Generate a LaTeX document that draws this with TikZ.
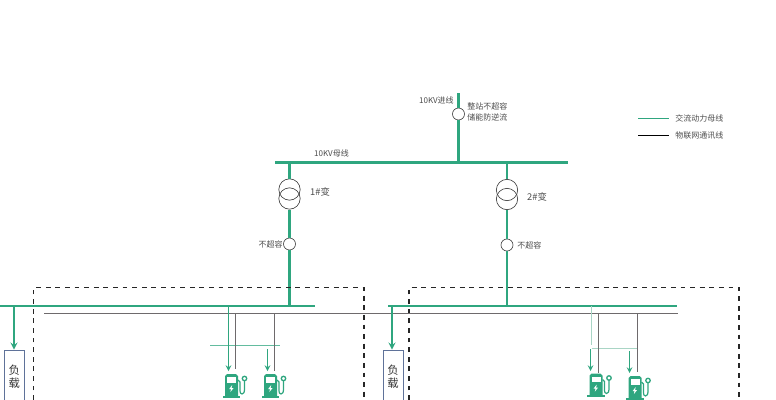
\documentclass[tikz,border=0pt]{standalone}
\usepackage{fontspec}
\setmainfont{Noto Sans CJK SC}
\usepackage{tikz}
\definecolor{busgreen}{HTML}{2FA67F}
\definecolor{palegreen}{HTML}{A9D5C5}
\definecolor{commgray}{HTML}{6E6A6C}
\definecolor{loadblue}{HTML}{5F7299}
\tikzset{
    busline/.style={draw=busgreen,line width=1.7pt},
    feedline/.style={draw=busgreen,line width=0.9pt,->,>=stealth},
    commline/.style={draw=commgray,line width=0.9pt},
    stationline/.style={draw=black!85,line width=1.1pt,dash pattern=on 3.6pt off 3.6pt},
    ring/.style={circle,draw=black!75,fill=white,line width=0.5pt,minimum size=9pt,inner sep=0pt},
    coil/.style={circle,draw=black!75,line width=0.5pt,minimum size=16pt,inner sep=0pt},
    lbl/.style={text=black!70,font=\fontsize{6}{8}\selectfont,inner sep=0pt,align=left},
    loadbox/.style={draw=loadblue,line width=0.7pt,minimum width=15pt,minimum height=40.5pt,inner sep=0pt,align=center,text=black!80,font=\fontsize{8.5}{9.5}\selectfont},
    pics/pump/.style={code={
        \fill[busgreen] (-2.5,21.5) rectangle (15,23.5);
        \fill[busgreen] (0,2) to[out=-90,in=180] (2,0) -- (11,0) to[out=0,in=-90] (13,2) -- (13,22) -- (0,22) -- cycle;
        \fill[white] (2,3) rectangle (11,8.5);
        \fill[white] (7.2,11) -- (4.2,15) -- (6,15) -- (5.4,18) -- (8.6,14) -- (6.6,14) -- cycle;
        \draw[busgreen,line width=0.9pt] (13,6) -- (15,8) -- (15,17) to[out=-90,in=180] (17,20) to[out=0,in=-90] (19.5,16) -- (19.5,6);
        \draw[busgreen,line width=1pt,fill=white] (19.5,4.5) circle (2.2);
    }},
}
\begin{document}
\begin{tikzpicture}[x=0.75pt,y=-0.75pt]
\useasboundingbox (0,0) rectangle (776,400);
% top feeder and bus
\coordinate (infeed) at (458.5,93);
\coordinate (topbusl) at (275,162.5);
\coordinate (topbusr) at (568,162.5);
\coordinate (topbusm) at (458.5,162.5);
\coordinate (tapa) at (289.5,162.5);
\coordinate (tapb) at (507,162.5);
\node[ring] (inring) at (458.5,114) {};
\draw[busline] (topbusl) -- (topbusr);
\draw[busline] (infeed) -- (inring);
\draw[busline] (inring) -- (topbusm);
\node[lbl,anchor=east] (inlbl) at (454,100) {10KV进线};
\node[lbl,anchor=west] (limitlbl) at (467,112) {整站不超容\\储能防逆流};
\node[lbl] (buslbl) at (331.5,153) {10KV母线};
% transformers
\node[coil] (ta1) at (289.5,189.5) {};
\node[coil] (ta2) at (289.5,198.5) {};
\node[coil] (tb1) at (507,190) {};
\node[coil] (tb2) at (507,199) {};
\node[lbl,font=\fontsize{7}{8}\selectfont] (talbl) at (320,192) {1\#变};
\node[lbl,font=\fontsize{7}{8}\selectfont] (tblbl) at (537,197) {2\#变};
\node[ring] (ringa) at (289.5,244) {};
\node[ring] (ringb) at (507,245) {};
\node[lbl,anchor=east] (ringalbl) at (283,244) {不超容};
\node[lbl,anchor=west] (ringblbl) at (517,245) {不超容};
\coordinate (busafoot) at (289.5,306);
\coordinate (busbfoot) at (507,306);
\draw[busline] (tapa) -- (ta1);
\draw[busline] (ta2) -- (ringa);
\draw[busline] (ringa) -- (busafoot);
\draw[busline] (tapb) -- (tb1);
\draw[busline] (tb2) -- (ringb);
\draw[busline] (ringb) -- (busbfoot);
% dashed stations
\draw[stationline] (33.5,400) -- (33.5,287.5) -- (364,287.5) -- (364,400);
\draw[stationline] (409,400) -- (409,287.5) -- (739,287.5) -- (739,400);
% low voltage buses
\coordinate (busal) at (0,306);
\coordinate (busar) at (315,306);
\coordinate (busbl) at (388,306);
\coordinate (busbr) at (677,306);
\coordinate (commstart) at (44,313.5);
\coordinate (commend) at (678,313.5);
\draw[busline] (busal) -- (busar);
\draw[busline] (busbl) -- (busbr);
\draw[commline] (commstart) -- (commend);
% loads
\node[loadbox] (loada) at (14.25,377) {负\\载};
\node[loadbox] (loadb) at (393,377) {负\\载};
\coordinate (loadatap) at (14,306);
\coordinate (loadbtap) at (392,306);
\draw[busline,->,>=stealth,line width=1.3pt] (loadatap) -- (loadatap |- loada.north);
\draw[busline,->,>=stealth,line width=1.3pt] (loadbtap) -- (loadbtap |- loadb.north);
% chargers, left
\coordinate (cha1) at (228.5,306);
\coordinate (cha2) at (228.5,371);
\coordinate (cha3) at (267.5,349);
\coordinate (cha4) at (267.5,371);
\coordinate (cma1) at (235.5,313.5);
\coordinate (cma2) at (235.5,369);
\coordinate (cma3) at (274.5,313.5);
\coordinate (cma4) at (274.5,371);
\coordinate (acl) at (210,345.5);
\coordinate (acr) at (280,345.5);
\draw[busgreen!75,line width=0.8pt] (acl) -- (acr);
\draw[feedline] (cha1) -- (cha2);
\draw[feedline] (cha3) -- (cha4);
\draw[commline] (cma1) -- (cma2);
\draw[commline] (cma3) -- (cma4);
\pic at (225,374) {pump};
\pic at (264,374) {pump};
% chargers, right
\coordinate (chb1) at (591.5,306);
\coordinate (chb2) at (591.5,345);
\coordinate (chb3) at (590.5,349);
\coordinate (chb4) at (590.5,371);
\coordinate (chb5) at (629.5,351);
\coordinate (chb6) at (629.5,373);
\coordinate (cmb1) at (598.5,313.5);
\coordinate (cmb2) at (598.5,373);
\coordinate (cmb3) at (637.5,313.5);
\coordinate (cmb4) at (637.5,372);
\coordinate (bcl) at (591.5,348.5);
\coordinate (bcr) at (637.5,348.5);
\draw[palegreen,line width=0.9pt] (chb1) -- (chb2);
\draw[palegreen,line width=0.9pt] (bcl) -- (bcr);
\draw[feedline] (chb3) -- (chb4);
\draw[feedline] (chb5) -- (chb6);
\draw[commline] (cmb1) -- (cmb2);
\draw[commline] (cmb3) -- (cmb4);
\pic at (589.5,373.5) {pump};
\pic at (628.5,376) {pump};
% legend
\coordinate (lga) at (638,118.5);
\coordinate (lgb) at (669,118.5);
\coordinate (lgc) at (638,135.5);
\coordinate (lgd) at (669,135.5);
\draw[busgreen,line width=1.1pt] (lga) -- (lgb);
\draw[black,line width=1.1pt] (lgc) -- (lgd);
\node[lbl,anchor=west] (lgalbl) at (675,118.5) {交流动力母线};
\node[lbl,anchor=west] (lgblbl) at (675,136) {物联网通讯线};
\end{tikzpicture}
\end{document}
